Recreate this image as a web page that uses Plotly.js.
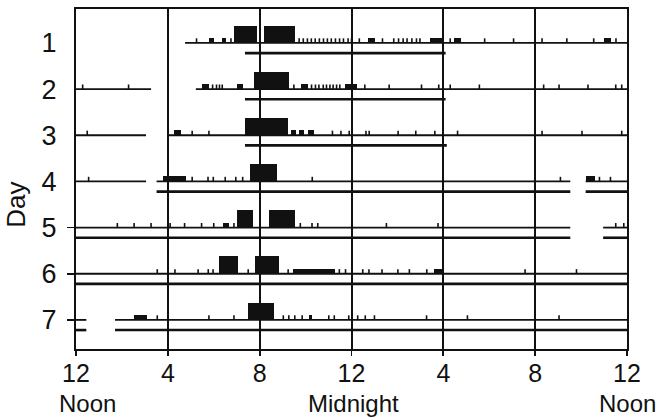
<!DOCTYPE html>
<html><head><meta charset="utf-8">
<script src="https://cdn.plot.ly/plotly-3.0.1.min.js"></script>
<style>html,body{margin:0;padding:0;background:#fff}#chart{width:659px;height:418px}</style>
</head><body><div id="chart"></div>
<script>
// Hours measured from noon (0 = 12 Noon, 12 = Midnight, 24 = next Noon)
const days = [1, 2, 3, 4, 5, 6, 7];
const dayLabels = ['1', '2', '3', '4', '5', '6', '7'];
const hourTicks = [0, 4, 8, 12, 16, 20, 24];
const hourLabels = ['12', '4', '8', '12', '4', '8', '12'];
const clockNames = ['Noon', 'Midnight', 'Noon'];
const clockNameHours = [0, 12, 24];
const markedDays = [5, 6, 7];
const yTitle = 'Day';

// recording trace (baseline) segments per day [start, end]
const traceSegments = [
  [[4.75, 24]],
  [[0, 3.27], [5.22, 24]],
  [[0, 3.05], [3.98, 24]],
  [[0, 3.05], [3.51, 21.53], [22.2, 24]],
  [[0, 21.53], [22.96, 24]],
  [[0, 24]],
  [[0, 0.45], [1.7, 24]]
];

// lower bar under each day [start, end]
const lowerSegments = [
  [[7.36, 16.1]],
  [[7.36, 16.1]],
  [[7.36, 16.15]],
  [[3.51, 21.53], [22.2, 24]],
  [[0, 21.53], [22.96, 24]],
  [[0, 24]],
  [[0, 0.45], [1.7, 24]]
];

// brief activity events (small ticks)
const activityTicks = [
  [5.25, 6.75, 9.72, 9.9, 10.08, 10.25, 10.42, 10.6, 10.78, 10.95, 11.12, 11.3, 11.48, 11.65, 11.85, 12.0, 12.34, 13.35, 13.84, 14.05, 14.25, 14.42, 14.63, 14.83, 14.98, 16.3, 17.8, 19.06, 20.3, 21.38, 22.55, 23.52],
  [0.29, 2.29, 5.95, 6.12, 6.25, 6.37, 9.49, 10.26, 10.43, 10.58, 10.77, 10.91, 11.06, 11.2, 11.35, 11.49, 12.58, 13.64, 15.05, 15.8, 16.3, 17.57, 20.37, 21.04, 22.3, 23.51, 23.77],
  [0.49, 5.06, 5.79, 11.17, 11.54, 11.9, 12.63, 12.77, 14.03, 14.8, 15.63, 16.62, 20.3, 22.04, 23.77],
  [0.55, 5.06, 5.75, 5.98, 6.5, 6.96, 7.26, 10.29, 21.1, 22.8, 23.28],
  [1.8, 2.53, 3.27, 4.1, 4.73, 5.47, 6.0, 6.88, 9.77, 10.28, 10.53, 13.52, 15.77, 23.51, 23.86],
  [3.54, 4.31, 5.32, 5.76, 5.97, 7.5, 9.24, 11.47, 11.74, 12.49, 12.76, 13.33, 14.02, 14.52, 15.28, 19.56, 21.8],
  [3.54, 5.79, 6.88, 9.03, 9.27, 9.53, 9.85, 11.01, 11.25, 11.88, 12.27, 12.6, 13.0, 15.27, 17.05, 21.04]
];

// low-level activity bouts [start, end]
const smallBouts = [
  [[5.8, 6.02], [6.34, 6.52], [12.73, 13.02], [15.41, 16.02], [16.45, 16.79], [22.99, 23.32]],
  [[5.47, 5.8], [7.0, 7.28], [9.78, 10.11], [11.71, 12.25]],
  [[4.28, 4.58], [9.35, 9.58], [9.72, 9.93], [10.11, 10.36]],
  [[3.77, 4.8], [22.23, 22.6]],
  [[6.42, 6.65]],
  [[9.46, 11.28], [15.59, 15.92]],
  [[2.53, 3.08], [10.16, 10.3]]
];

// major activity bouts [start, end]
const largeBouts = [
  [[6.88, 7.89], [8.2, 9.53]],
  [[7.76, 9.29]],
  [[7.36, 9.24]],
  [[7.58, 8.76]],
  [[7.0, 7.72], [8.42, 9.53]],
  [[6.23, 7.05], [7.79, 8.84]],
  [[7.5, 8.63]]
];

const TICK_H = 0.1, SMALL_H = 0.11, LARGE_H = 0.375, LOWER_OFF = 0.22;

function segTrace(list, off, width) {
  const x = [], y = [];
  list.forEach((segs, i) => segs.forEach(s => {
    x.push(s[0], s[1], null); y.push(days[i] + off, days[i] + off, null);
  }));
  return {type: 'scatter', mode: 'lines', x, y, line: {color: '#111', width}, hoverinfo: 'skip', showlegend: false};
}
function tickTrace() {
  const x = [], y = [];
  activityTicks.forEach((ts, i) => ts.forEach(t => {
    x.push(t, t, null); y.push(days[i], days[i] - TICK_H, null);
  }));
  return {type: 'scatter', mode: 'lines', x, y, line: {color: '#111', width: 1.6}, hoverinfo: 'skip', showlegend: false};
}
function boutTrace(list, h) {
  const x = [], y = [], base = [];
  list.forEach((segs, i) => segs.forEach(s => {
    base.push(s[0]); x.push(s[1] - s[0]); y.push(days[i] - h / 2);
  }));
  return {type: 'bar', orientation: 'h', x, y, base, width: h, marker: {color: '#111', line: {width: 0}}, hoverinfo: 'skip', showlegend: false};
}

const data = [
  segTrace(traceSegments, 0, 1.8),
  segTrace(lowerSegments, LOWER_OFF, 2.6),
  tickTrace(),
  boutTrace(smallBouts, SMALL_H),
  boutTrace(largeBouts, LARGE_H),
  {type: 'scatter', mode: 'markers', x: [0], y: [markedDays[0]], yaxis: 'y2', marker: {opacity: 0}, hoverinfo: 'skip', showlegend: false}
];

const fontFam = 'Liberation Sans, Arial, sans-serif';
const yRange = [7.63, 0.265];
const annots = clockNames.map((t, i) => ({
  text: t, x: clockNameHours[i], xref: 'x', y: -0.159, yref: 'paper',
  xanchor: 'center', yanchor: 'middle', showarrow: false,
  xshift: i === 0 ? 11 : (i === 1 ? 2 : 0),
  font: {size: 24, family: fontFam, color: '#111'}
}));
annots.push({
  text: yTitle, x: -0.109, xref: 'paper', y: 0.424, yref: 'paper',
  xanchor: 'center', yanchor: 'middle', showarrow: false, textangle: -90,
  font: {size: 26, family: fontFam, color: '#111'}
});

const layout = {
  width: 659, height: 418,
  margin: {l: 76, r: 32, t: 9, b: 69},
  paper_bgcolor: '#fff', plot_bgcolor: '#fff',
  barmode: 'overlay', bargap: 0,
  showlegend: false,
  font: {family: fontFam, color: '#111'},
  xaxis: {
    range: [0, 24], tickvals: hourTicks, ticktext: hourLabels,
    showgrid: true, gridcolor: '#111', gridwidth: 2,
    showline: true, linecolor: '#111', linewidth: 2, mirror: true,
    ticks: 'outside', ticklen: 5, tickwidth: 1.8, tickcolor: '#111',
    zeroline: false, tickfont: {size: 25, family: fontFam, color: '#111'},
    ticklabelstandoff: -4, fixedrange: true
  },
  yaxis: {
    range: yRange, tickvals: days, ticktext: dayLabels,
    showgrid: false, zeroline: false,
    showline: true, linecolor: '#111', linewidth: 2, mirror: true,
    ticks: '', tickfont: {size: 27, family: fontFam, color: '#111'},
    ticklabelstandoff: 12,
    fixedrange: true
  },
  yaxis2: {
    range: yRange, overlaying: 'y', side: 'left', tickvals: markedDays,
    showticklabels: false, ticks: 'outside', ticklen: 8, tickwidth: 1.8, tickcolor: '#111',
    showgrid: false, zeroline: false, showline: false, fixedrange: true
  },
  annotations: annots
};

Plotly.newPlot('chart', data, layout, {displayModeBar: false, staticPlot: true});
</script>
</body></html>
